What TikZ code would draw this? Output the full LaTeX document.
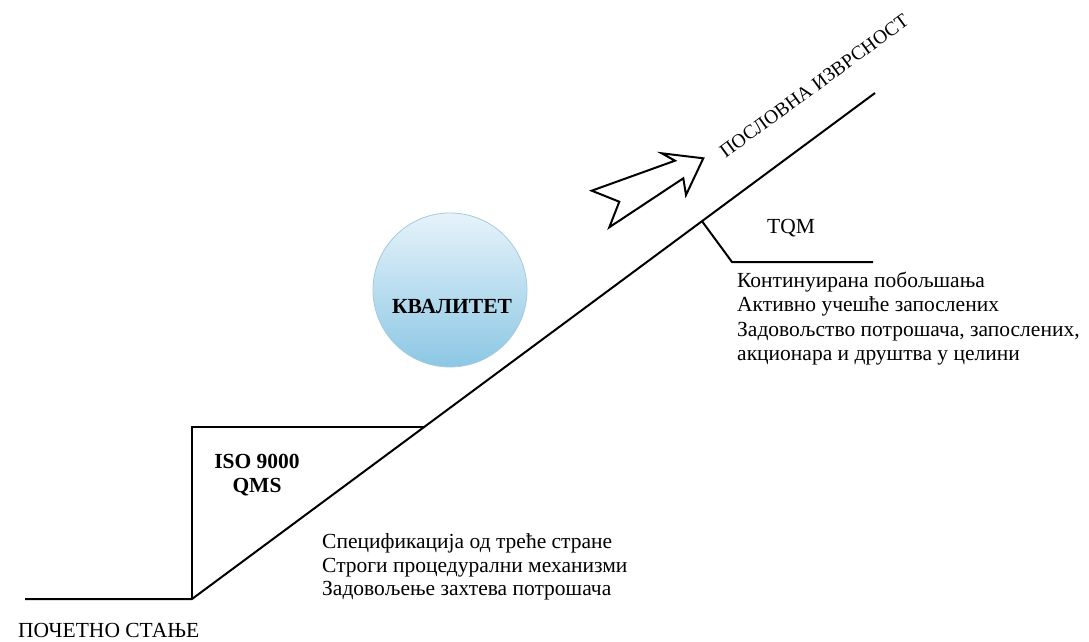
\documentclass[tikz,border=0pt]{standalone}
\usepackage{fontspec}
\setmainfont{Liberation Serif}
\definecolor{ballTop}{HTML}{E6F3FA}
\definecolor{ballBottom}{HTML}{8CC7E4}
\definecolor{ballEdge}{HTML}{A6CADC}
\begin{document}
\begin{tikzpicture}[x=1pt, y=-1pt,
  stair/.style={draw=black, line width=2pt, line join=miter},
  txt/.style={font=\fontsize{21.5}{23.5}\selectfont, inner sep=0pt, align=left},
  bold/.style={font=\fontsize{21.5}{23.5}\selectfont\bfseries, inner sep=0pt, align=center}]
\useasboundingbox (0,0) rectangle (1089,642);

% points of the staircase and the slope
\coordinate (start) at (25,599);
\coordinate (foot) at (192,599);
\coordinate (isoTop) at (192,427);
\coordinate (isoEdge) at (424.2,427);
\coordinate (summit) at (875,93);
\coordinate (tqmJoint) at (702,221.2);
\coordinate (tqmBend) at (732,262);
\coordinate (tqmEnd) at (873,262);

% quality ball resting on the slope
\shade[top color=ballTop, bottom color=ballBottom, draw=ballEdge, line width=0.8pt]
  (450,290) circle[radius=77];
\node[bold] (quality) at (452,307) {КВАЛИТЕТ};

% base line, riser and slope
\draw[stair] (start) -- (foot) -- (summit);
\draw[stair] (foot) -- (isoTop) -- (isoEdge);
\draw[stair] (tqmJoint) -- (tqmBend) -- (tqmEnd);

% hollow arrow pointing up the slope
\draw[line width=2pt, line join=miter, fill=white]
  (591.7,190.7) -- (675,160.7) -- (661.7,153.3) -- (703.3,158.3)
  -- (686,195) -- (683.3,178.3) -- (609.3,227.3) -- (619.3,201.7) -- cycle;

% labels
\node[font=\fontsize{19.5}{23}\selectfont, inner sep=0pt, rotate=36.2] (goal) at (814,86) {ПОСЛОВНА ИЗВРСНОСТ};
\node[txt] (tqm) at (791,228) {TQM};
\node[bold] (iso) at (257,475) {ISO 9000\\QMS};
\node[txt, anchor=west] (initial) at (18,630) {ПОЧЕТНО СТАЊЕ};
\node[txt, anchor=west] (isoNotes) at (322,567)
  {Спецификација од треће стране\\Строги процедурални механизми\\Задовољење захтева потрошача};
\node[txt, anchor=west, font=\fontsize{21.5}{24.3}\selectfont] (tqmNotes) at (737,318.5)
  {Континуирана побољшања\\Активно учешће запослених\\Задовољство потрошача, запослених,\\акционара и друштва у целини};
\end{tikzpicture}
\end{document}
